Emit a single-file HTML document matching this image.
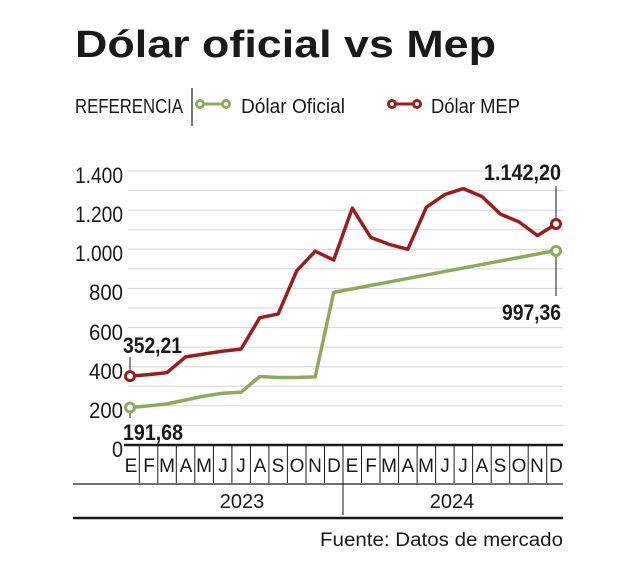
<!DOCTYPE html>
<html><head><meta charset="utf-8"><style>
html,body{margin:0;padding:0;background:#fff;}
svg{display:block;}
</style></head><body>
<svg width="634" height="569" viewBox="0 0 634 569" xmlns="http://www.w3.org/2000/svg" font-family="'Liberation Sans Narrow','Liberation Sans',sans-serif">
<rect width="634" height="569" fill="#fff"/>
<text x="75" y="57" font-family="'Liberation Sans',sans-serif" font-weight="bold" font-size="38" fill="#1a1a1a" textLength="421" lengthAdjust="spacingAndGlyphs">Dólar oficial vs Mep</text>
<text x="75" y="113" font-size="20" fill="#1a1a1a" textLength="108" lengthAdjust="spacingAndGlyphs">REFERENCIA</text>
<line x1="192" y1="88" x2="192" y2="126" stroke="#1a1a1a" stroke-width="1.2"/>
<g stroke="#8fa95a" stroke-width="3" fill="#fff"><line x1="200" y1="104" x2="226" y2="104"/><circle cx="200" cy="104" r="3.5"/><circle cx="226" cy="104" r="3.5"/></g>
<text x="241" y="113" font-size="20" fill="#1a1a1a" textLength="104" lengthAdjust="spacingAndGlyphs">Dólar Oficial</text>
<g stroke="#9c1c1f" stroke-width="3" fill="#fff"><line x1="392" y1="104" x2="417" y2="104"/><circle cx="392" cy="104" r="3.5"/><circle cx="417" cy="104" r="3.5"/></g>
<text x="431" y="113" font-size="20" fill="#1a1a1a" textLength="89" lengthAdjust="spacingAndGlyphs">Dólar MEP</text>
<g stroke="#d4d4d4" stroke-width="1">
<line x1="128" y1="425.4" x2="563" y2="425.4"/><line x1="128" y1="405.9" x2="563" y2="405.9"/><line x1="128" y1="386.3" x2="563" y2="386.3"/><line x1="128" y1="366.7" x2="563" y2="366.7"/><line x1="128" y1="347.1" x2="563" y2="347.1"/><line x1="128" y1="327.6" x2="563" y2="327.6"/><line x1="128" y1="308" x2="563" y2="308"/><line x1="128" y1="288.4" x2="563" y2="288.4"/><line x1="128" y1="268.9" x2="563" y2="268.9"/><line x1="128" y1="249.3" x2="563" y2="249.3"/><line x1="128" y1="229.7" x2="563" y2="229.7"/><line x1="128" y1="210.1" x2="563" y2="210.1"/><line x1="128" y1="190.6" x2="563" y2="190.6"/><line x1="128" y1="171" x2="563" y2="171"/>
</g>
<g font-size="22" fill="#1a1a1a" text-anchor="end" lengthAdjust="spacingAndGlyphs">
<text x="123" y="183" textLength="48" lengthAdjust="spacingAndGlyphs">1.400</text><text x="123" y="222" textLength="48" lengthAdjust="spacingAndGlyphs">1.200</text><text x="123" y="261" textLength="48" lengthAdjust="spacingAndGlyphs">1.000</text><text x="123" y="300" textLength="34" lengthAdjust="spacingAndGlyphs">800</text><text x="123" y="340" textLength="34" lengthAdjust="spacingAndGlyphs">600</text><text x="123" y="379" textLength="34" lengthAdjust="spacingAndGlyphs">400</text><text x="123" y="418" textLength="34" lengthAdjust="spacingAndGlyphs">200</text><text x="123" y="457" textLength="11" lengthAdjust="spacingAndGlyphs">0</text>
</g>
<line x1="124" y1="445" x2="563" y2="445" stroke="#1a1a1a" stroke-width="2.5"/>
<g stroke="#1a1a1a" stroke-width="1">
<line x1="139.3" y1="446" x2="139.3" y2="483"/><line x1="157.8" y1="446" x2="157.8" y2="483"/><line x1="176.3" y1="446" x2="176.3" y2="483"/><line x1="194.8" y1="446" x2="194.8" y2="483"/><line x1="213.4" y1="446" x2="213.4" y2="483"/><line x1="231.9" y1="446" x2="231.9" y2="483"/><line x1="250.4" y1="446" x2="250.4" y2="483"/><line x1="268.9" y1="446" x2="268.9" y2="483"/><line x1="287.4" y1="446" x2="287.4" y2="483"/><line x1="306" y1="446" x2="306" y2="483"/><line x1="324.5" y1="446" x2="324.5" y2="483"/><line x1="343" y1="446" x2="343" y2="515"/><line x1="361.5" y1="446" x2="361.5" y2="483"/><line x1="380" y1="446" x2="380" y2="483"/><line x1="398.6" y1="446" x2="398.6" y2="483"/><line x1="417.1" y1="446" x2="417.1" y2="483"/><line x1="435.6" y1="446" x2="435.6" y2="483"/><line x1="454.1" y1="446" x2="454.1" y2="483"/><line x1="472.6" y1="446" x2="472.6" y2="483"/><line x1="491.2" y1="446" x2="491.2" y2="483"/><line x1="509.7" y1="446" x2="509.7" y2="483"/><line x1="528.2" y1="446" x2="528.2" y2="483"/><line x1="546.7" y1="446" x2="546.7" y2="483"/>
</g>
<line x1="73" y1="484" x2="563" y2="484" stroke="#1a1a1a" stroke-width="1.2"/>
<line x1="73" y1="518" x2="563" y2="518" stroke="#1a1a1a" stroke-width="2.5"/>
<g font-size="19" fill="#1a1a1a" text-anchor="middle">
<text x="131" y="472">E</text><text x="149" y="472">F</text><text x="167" y="472">M</text><text x="186" y="472">A</text><text x="204" y="472">M</text><text x="223" y="472">J</text><text x="241" y="472">J</text><text x="260" y="472">A</text><text x="278" y="472">S</text><text x="297" y="472">O</text><text x="315" y="472">N</text><text x="334" y="472">D</text>
<text x="352" y="472">E</text><text x="371" y="472">F</text><text x="389" y="472">M</text><text x="408" y="472">A</text><text x="426" y="472">M</text><text x="445" y="472">J</text><text x="463" y="472">J</text><text x="482" y="472">A</text><text x="500" y="472">S</text><text x="519" y="472">O</text><text x="537" y="472">N</text><text x="556" y="472">D</text>
<text x="242" y="508" font-size="20">2023</text><text x="452" y="508" font-size="20">2024</text>
</g>
<polyline fill="none" stroke="#8fa95a" stroke-width="3.5" stroke-linejoin="round" points="130,407.5 148.5,405.9 167,403.9 185.6,400 204.1,396.1 222.6,393.2 241.1,392.2 259.7,376.5 278.2,377.5 296.7,377.5 315.2,376.9 333.7,292.4 556,250.5"/>
<polyline fill="none" stroke="#9c1c1f" stroke-width="3.5" stroke-linejoin="round" points="130,376.1 148.5,374.6 167,372.6 185.6,356.9 204.1,354 222.6,351.1 241.1,349.1 259.7,317.8 278.2,313.9 296.7,270.8 315.2,251.2 333.7,260.1 352.3,208.2 370.8,237.5 389.3,244.4 407.8,249.3 426.4,207.2 444.9,194.5 463.4,188.6 481.9,196.5 500.5,214.1 519,221.9 537.5,235.6 556,224"/>
<line x1="556" y1="186" x2="556" y2="221" stroke="#1a1a1a" stroke-width="1"/>
<line x1="556" y1="254" x2="556" y2="296" stroke="#1a1a1a" stroke-width="1"/>
<line x1="130" y1="357" x2="130" y2="376" stroke="#1a1a1a" stroke-width="1"/>
<line x1="130" y1="408" x2="130" y2="418" stroke="#1a1a1a" stroke-width="1"/>
<circle cx="130" cy="376.1" r="4.5" fill="#fff" stroke="#9c1c1f" stroke-width="3"/>
<circle cx="556" cy="224" r="4.5" fill="#fff" stroke="#9c1c1f" stroke-width="3"/>
<circle cx="130" cy="407.5" r="4.5" fill="#fff" stroke="#8fa95a" stroke-width="3"/>
<circle cx="556" cy="251" r="4.5" fill="#fff" stroke="#8fa95a" stroke-width="3"/>
<g font-size="22" font-weight="bold" fill="#1a1a1a">
<text x="123" y="353" textLength="59" lengthAdjust="spacingAndGlyphs">352,21</text>
<text x="123" y="440" textLength="60" lengthAdjust="spacingAndGlyphs">191,68</text>
<text x="561" y="180" text-anchor="end" textLength="77" lengthAdjust="spacingAndGlyphs">1.142,20</text>
<text x="561" y="320" text-anchor="end" textLength="59" lengthAdjust="spacingAndGlyphs">997,36</text>
</g>
<text x="563" y="546" font-size="19" fill="#1a1a1a" text-anchor="end" font-family="'Liberation Sans',sans-serif" textLength="243" lengthAdjust="spacingAndGlyphs">Fuente: Datos de mercado</text>
</svg>
</body></html>
